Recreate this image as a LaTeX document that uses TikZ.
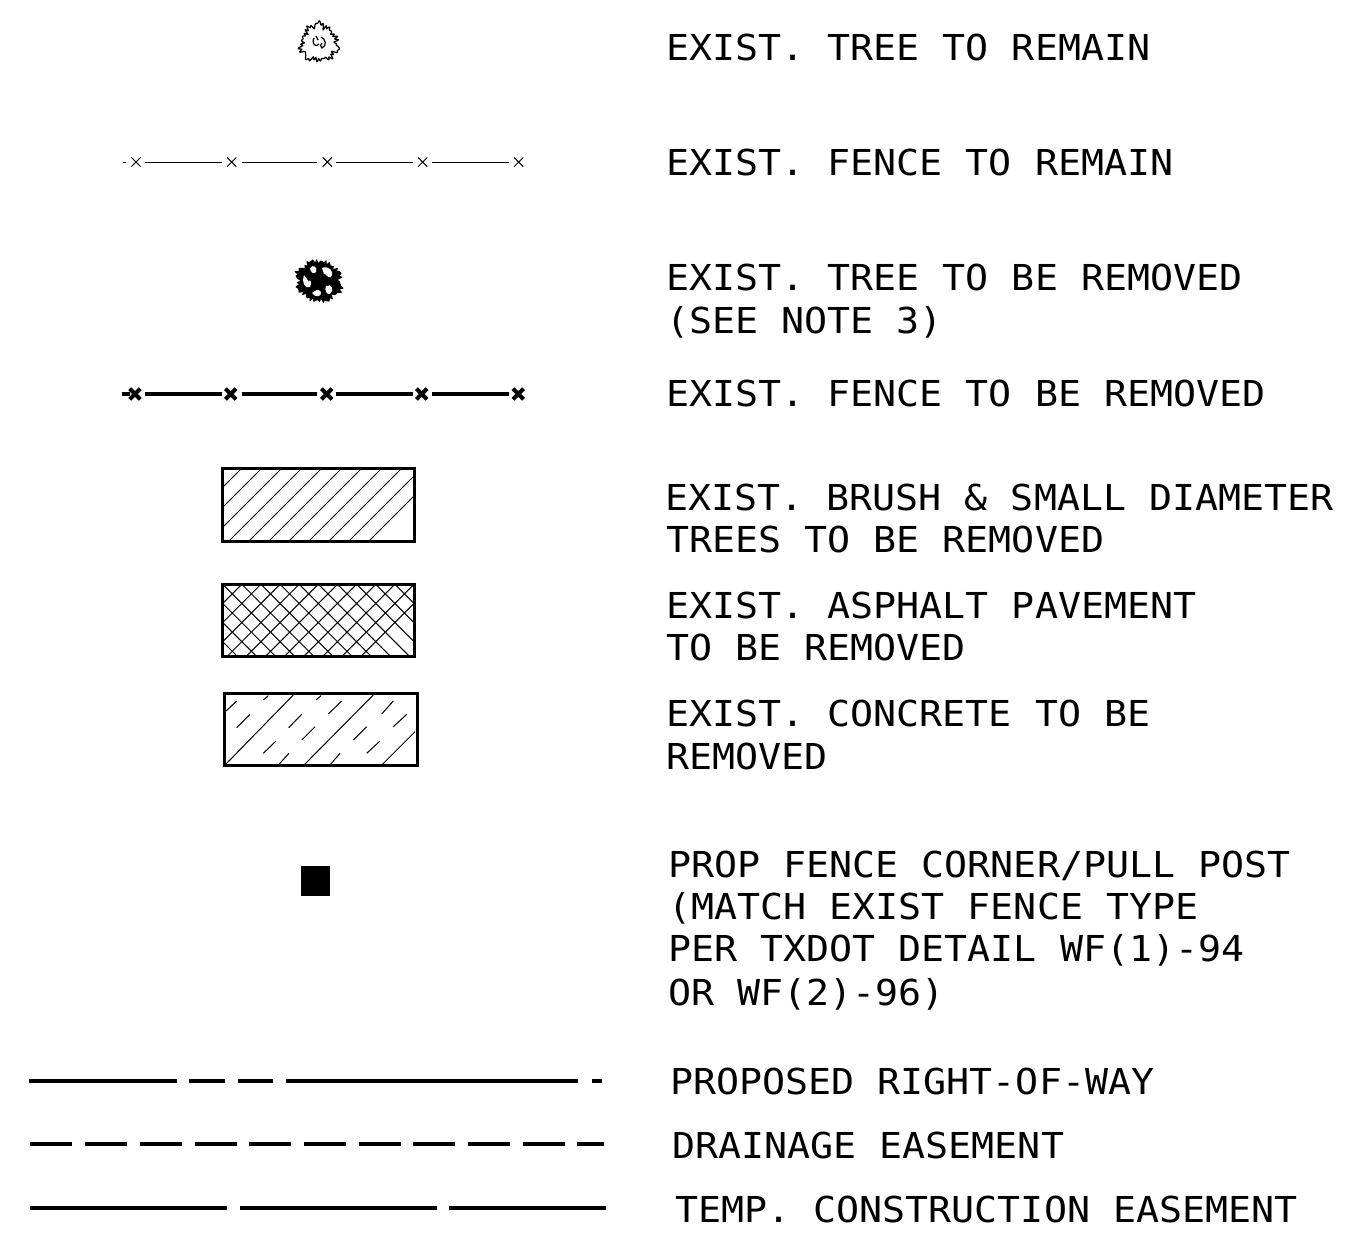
\documentclass[tikz,border=0pt]{standalone}
\usepackage{fontspec}
\newfontfamily\cadfont[FakeStretch=1.072]{DejaVu Sans Mono}
\begin{document}
\begin{tikzpicture}[x=0.5pt,y=-0.5pt,
  lbl/.style={anchor=base west, inner sep=0pt, font={\cadfont\fontsize{17.85}{21.25}\selectfont}},
  thinln/.style={line width=0.5pt},
  thickln/.style={line width=2pt},
  border/.style={line width=1.5pt},
  hatch/.style={line width=0.5pt}]
\path[use as bounding box] (0,0) rectangle (1370,1248);

% ---------- 1. tree to remain
\draw[line width=0.6pt, line join=round, shift={(319,43)}] plot[domain=0:358, samples=180]
  (\x:{15.5+(3.5+2*sin(3*\x+20))*abs(sin(5*\x))+1.3*sin(31*\x)+0.8*cos(37*\x)}) -- cycle;
\draw[line width=0.6pt] (314,38) .. controls (311,44) and (316,48) .. (319,44)
  (321,37) .. controls (326,39) and (327,46) .. (322,48) .. controls (320,47) and (320,44) .. (322,43)
  (316,36) -- (318,40);

% ---------- 2. fence to remain
\draw[thinln] (123.3,162) -- (126,162);
\foreach \a/\b in {145/221.7, 241.7/317.3, 336/413.3, 431.7/509.3} \draw[thinln] (\a,162) -- (\b,162);
\foreach \c in {136,231.7,327.3,422.7,518.7}
  \draw[thinln] (\c-4.6,157.4) -- (\c+4.6,166.6) (\c-4.6,166.6) -- (\c+4.6,157.4);

% ---------- 3. tree to be removed
\fill[shift={(319,281)}] plot[domain=0:358, samples=180]
  (\x:{19.5+(3+2*sin(2*\x+60))*abs(sin(4*\x))+1.1*sin(29*\x)+0.7*cos(41*\x)}) -- cycle;
\fill[white] (304,275) .. controls (301,281) and (305,290) .. (310,287) .. controls (313,283) and (309,277) .. (309,282) -- cycle;
\fill[white] (322,268) .. controls (328,265) and (335,271) .. (331,277) .. controls (328,279) and (326,273) .. (324,274) -- cycle;
\fill[white] (312,293) .. controls (315,298) and (322,297) .. (321,292) .. controls (318,288) and (315,291) .. cycle;
\fill[white] (326,286) .. controls (331,283) and (335,290) .. (330,294) .. controls (327,295) and (324,290) .. cycle;
\fill[white] (310,268) .. controls (313,264) and (318,267) .. (316,272) .. controls (314,275) and (310,272) .. cycle;

% ---------- 4. fence to be removed
\draw[thickln] (121.7,394) -- (130,394);
\foreach \a/\b in {145/221.7, 241.7/317.3, 336/413.3, 431.7/509.3} \draw[thickln] (\a,394) -- (\b,394);
\foreach \c in {135,230.7,326.7,421.7,518.3}
  \draw[line width=2pt] (\c-5.3,388.7) -- (\c+5.3,399.3) (\c-5.3,399.3) -- (\c+5.3,388.7);

% ---------- 5. brush hatch
\begin{scope}
\clip (222.7,468.3) rectangle (414,541);
\foreach \k in {-4,...,10} \draw[hatch] (241.7+20*\k,468.3) -- (141.7+20*\k,568.3);
\end{scope}
\draw[border] (222.7,468.3) rectangle (414,541);

% ---------- 6. asphalt crosshatch
\begin{scope}
\clip (222.7,584.3) rectangle (414,656);
\foreach \k in {-4,...,11} {
  \draw[hatch] (222.7+19.13*\k,584.3) -- (122.7+19.13*\k,684.3);
  \draw[hatch] (222.7+19.13*\k,584.3) -- (322.7+19.13*\k,684.3);
}
\end{scope}
\draw[border] (222.7,584.3) rectangle (414,656);

% ---------- 7. concrete
\begin{scope}
\clip (224,693) rectangle (417,765.5);
\draw[hatch] (225,765) -- (293.3,695);
\draw[hatch] (304,765) -- (373.3,695);
\draw[hatch] (381.7,765) -- (415,731.7);
\foreach \a/\b/\c/\d in {226/711/236.7/701, 263.3/700/268.3/695.7, 236.7/727.7/250/714.3,
  288.7/727.7/301.7/714.3, 316/700/321/695.7, 301.7/740/315/726.7, 263.3/753.3/276/741,
  278.3/765/289/753.3, 328.3/714/341.7/701, 353.3/740/366.7/726.7, 330/765/340/753.3,
  381.7/714/393.3/701, 366.7/753.3/380/741, 393.3/726.7/406.7/714.3}
  \draw[hatch] (\a,\b) -- (\c,\d);
\end{scope}
\draw[border] (224,693) rectangle (417,765.5);

% ---------- 8. fence post
\fill (300.5,866) rectangle (330,895.5);

% ---------- 9-11. lines
\foreach \a/\b in {28.5/177, 189/224.6, 237.7/273, 286/578, 592/601.5}
  \draw[thickln] (\a,1081) -- (\b,1081);
\foreach \a in {30.4,85.1,139.8,194.5,249.2,303.9,358.6,413.3,468,522.7}
  \draw[thickln] (\a,1144) -- (\a+42,1144);
\draw[thickln] (577.4,1144) -- (604,1144);
\foreach \a/\b in {30.4/226.7, 239.5/436.6, 448.9/605.6}
  \draw[thickln] (\a,1208) -- (\b,1208);

% ---------- labels
\node[lbl] (t1) at (666,60) {EXIST. TREE TO REMAIN};
\node[lbl] (t2) at (666,175) {EXIST. FENCE TO REMAIN};
\node[lbl] (t3a) at (666,290) {EXIST. TREE TO BE REMOVED};
\node[lbl] (t3b) at (666,333) {(SEE NOTE 3)};
\node[lbl] (t4) at (666,406) {EXIST. FENCE TO BE REMOVED};
\node[lbl] (t5a) at (665,510) {EXIST. BRUSH \& SMALL DIAMETER};
\node[lbl] (t5b) at (666,552) {TREES TO BE REMOVED};
\node[lbl] (t6a) at (666,618) {EXIST. ASPHALT PAVEMENT};
\node[lbl] (t6b) at (666,660) {TO BE REMOVED};
\node[lbl] (t7a) at (666,726) {EXIST. CONCRETE TO BE};
\node[lbl] (t7b) at (666,769) {REMOVED};
\node[lbl] (t8a) at (668,877) {PROP FENCE CORNER/PULL POST};
\node[lbl] (t8b) at (668,919) {(MATCH EXIST FENCE TYPE};
\node[lbl] (t8c) at (668,961) {PER TXDOT DETAIL WF(1)-94};
\node[lbl] (t8d) at (668,1005) {OR WF(2)-96)};
\node[lbl] (t9) at (670,1094) {PROPOSED RIGHT-OF-WAY};
\node[lbl] (t10) at (672,1158) {DRAINAGE EASEMENT};
\node[lbl] (t11) at (675,1222) {TEMP. CONSTRUCTION EASEMENT};
\end{tikzpicture}
\end{document}
